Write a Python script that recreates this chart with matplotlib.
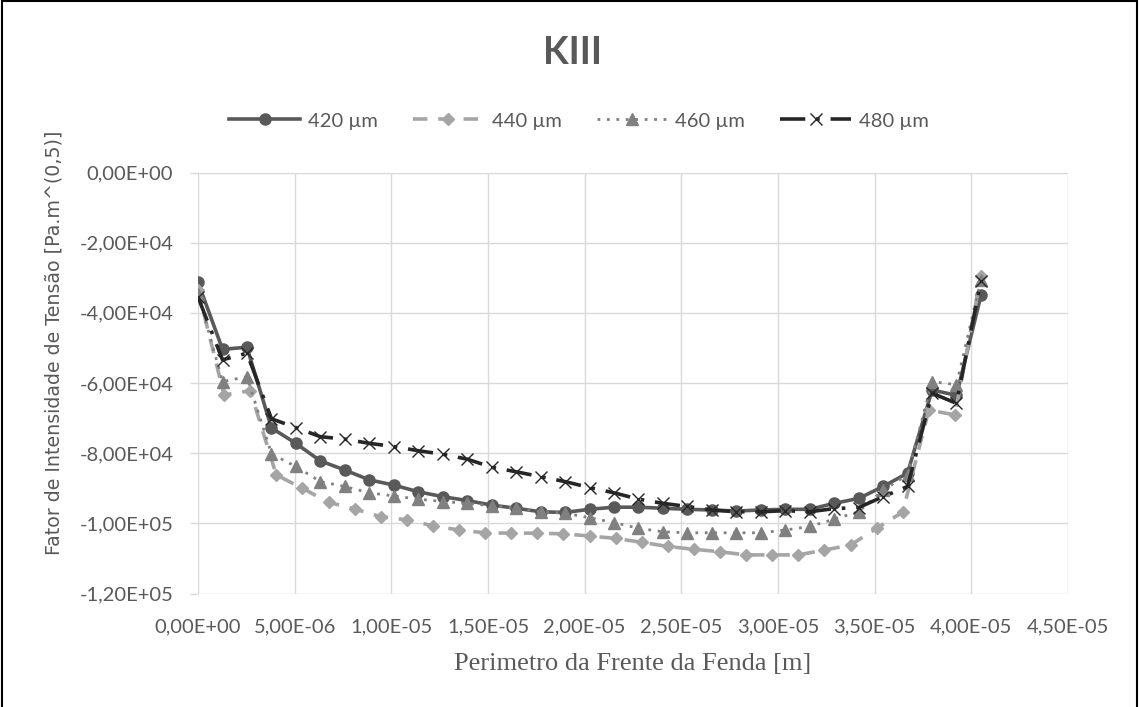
import matplotlib
matplotlib.use("Agg")
import matplotlib.pyplot as plt
from matplotlib.patches import Rectangle
from matplotlib.ticker import FuncFormatter, MultipleLocator

# Crack-front nodes (perimeter position, m)
x_33 = [0.0, 1.27e-6, 2.53e-6, 3.80e-6, 5.06e-6, 6.33e-6, 7.59e-6, 8.86e-6,
        1.013e-5, 1.139e-5, 1.266e-5, 1.392e-5, 1.519e-5, 1.645e-5, 1.772e-5,
        1.898e-5, 2.025e-5, 2.152e-5, 2.278e-5, 2.405e-5, 2.531e-5, 2.658e-5,
        2.784e-5, 2.911e-5, 3.038e-5, 3.164e-5, 3.291e-5, 3.417e-5, 3.544e-5,
        3.670e-5, 3.797e-5, 3.923e-5, 4.050e-5]
x_31 = [0.0, 1.35e-6, 2.70e-6, 4.05e-6, 5.40e-6, 6.75e-6, 8.10e-6, 9.45e-6,
        1.080e-5, 1.215e-5, 1.350e-5, 1.485e-5, 1.620e-5, 1.755e-5, 1.890e-5,
        2.025e-5, 2.160e-5, 2.295e-5, 2.430e-5, 2.565e-5, 2.700e-5, 2.835e-5,
        2.970e-5, 3.105e-5, 3.240e-5, 3.375e-5, 3.510e-5, 3.645e-5, 3.780e-5,
        3.915e-5, 4.050e-5]

# KIII values [Pa.m^0.5]
k_420 = [-3.13e4, -5.04e4, -4.98e4, -7.28e4, -7.72e4, -8.22e4, -8.48e4, -8.76e4,
         -8.91e4, -9.10e4, -9.24e4, -9.35e4, -9.48e4, -9.57e4, -9.67e4, -9.69e4,
         -9.60e4, -9.54e4, -9.54e4, -9.57e4, -9.60e4, -9.62e4, -9.65e4, -9.62e4,
         -9.60e4, -9.60e4, -9.43e4, -9.29e4, -8.95e4, -8.57e4, -6.20e4, -6.35e4,
         -3.50e4]
k_440 = [-3.35e4, -6.34e4, -6.22e4, -8.62e4, -9.00e4, -9.40e4, -9.59e4, -9.81e4,
         -9.90e4, -1.007e5, -1.019e5, -1.027e5, -1.028e5, -1.028e5, -1.030e5,
         -1.036e5, -1.043e5, -1.054e5, -1.066e5, -1.074e5, -1.081e5, -1.090e5,
         -1.090e5, -1.090e5, -1.076e5, -1.062e5, -1.014e5, -9.68e4, -6.77e4,
         -6.91e4, -2.95e4]
k_460 = [-3.45e4, -5.96e4, -5.82e4, -8.02e4, -8.38e4, -8.81e4, -8.95e4, -9.13e4,
         -9.22e4, -9.31e4, -9.38e4, -9.43e4, -9.50e4, -9.57e4, -9.67e4, -9.71e4,
         -9.84e4, -9.98e4, -1.014e5, -1.024e5, -1.027e5, -1.027e5, -1.027e5,
         -1.027e5, -1.019e5, -1.009e5, -9.88e4, -9.67e4, -9.05e4, -8.62e4,
         -5.96e4, -6.05e4, -3.05e4]
k_480 = [-3.55e4, -5.34e4, -5.15e4, -7.02e4, -7.27e4, -7.53e4, -7.60e4, -7.72e4,
         -7.81e4, -7.93e4, -8.03e4, -8.17e4, -8.40e4, -8.53e4, -8.67e4, -8.81e4,
         -8.98e4, -9.13e4, -9.31e4, -9.43e4, -9.52e4, -9.62e4, -9.67e4, -9.67e4,
         -9.64e4, -9.67e4, -9.58e4, -9.55e4, -9.24e4, -8.95e4, -6.29e4, -6.58e4,
         -3.08e4]

labels = ["420 µm", "440 µm", "460 µm", "480 µm"]

TXT = "#595959"
GRID = "#D9D9D9"

W, H, DPI = 1139, 707, 100
fig = plt.figure(figsize=(W / DPI, H / DPI), dpi=DPI)
ax = fig.add_axes([198 / W, 1 - 593.5 / H, (1068 - 198) / W, (593.5 - 172.5) / H])

lw = 2.6
ax.plot(x_33, k_420, color="#595959", lw=lw, ls="-", marker="o", ms=8,
        mfc="#595959", mec="#595959", label=labels[0], zorder=3)
ax.plot(x_31, k_440, color="#A5A5A5", lw=lw, dashes=(4, 3), marker="D", ms=6.5,
        mfc="#A5A5A5", mec="#A5A5A5", label=labels[1], zorder=4)
ax.plot(x_33, k_460, color="#808080", lw=2.0, dashes=(1, 2.4), marker="^", ms=8.5,
        mfc="#808080", mec="#808080", label=labels[2], zorder=5)
ax.plot(x_33, k_480, color="#262626", lw=lw, dashes=(7, 3, 1, 3), marker="x", ms=9,
        mew=1.0, mfc="#262626", mec="#262626", label=labels[3], zorder=6)

ax.set_xlim(0, 4.5e-5)
ax.set_ylim(-1.2e5, 0)
ax.xaxis.set_major_locator(MultipleLocator(5e-6))
ax.yaxis.set_major_locator(MultipleLocator(2e4))

fmt = FuncFormatter(lambda v, p: f"{v:.2E}".replace(".", ",").replace("-0,00E+00", "0,00E+00"))
ax.xaxis.set_major_formatter(fmt)
ax.yaxis.set_major_formatter(fmt)

ax.grid(True, color=GRID, lw=1.0)
ax.set_axisbelow(True)
for s in ax.spines.values():
    s.set_visible(False)

tick_font = "Lato"
ax.tick_params(axis="y", length=5.8, width=1.0, color=GRID, pad=12,
               labelsize=14.5, labelcolor=TXT)
ax.tick_params(axis="x", length=0, pad=18, labelsize=14.5, labelcolor=TXT)
for t in ax.get_xticklabels() + ax.get_yticklabels():
    t.set_fontfamily(tick_font)

fig.text(572 / W, 1 - 53 / H, "KIII", ha="center", va="center", fontsize=27,
         fontweight="bold", color=TXT, family="Lato")

fig.text(633 / W, 1 - 664 / H, "Perimetro da Frente da Fenda [m]", ha="center",
         va="center", fontsize=19, color=TXT, family="Liberation Serif")
fig.text(54 / W, 1 - 343 / H, "Fator de Intensidade de Tensão [Pa.m^(0,5)]",
         ha="center", va="center", rotation=90, fontsize=13.7, color=TXT,
         family="DejaVu Sans")

leg = fig.legend(loc="center", bbox_to_anchor=(579 / W, 1 - 121 / H), ncol=4,
                 frameon=False, numpoints=1, handlelength=3.5, handletextpad=0.4,
                 columnspacing=1.75, prop={"family": "Lato", "size": 14.5})
for t in leg.get_texts():
    t.set_color(TXT)

fig.patches.append(Rectangle((1.5 / W, -0.05), (W - 3.5) / W, 1.05 - 1.5 / H,
                             transform=fig.transFigure, fill=False,
                             edgecolor="black", lw=1.5))

fig.savefig("out.png", dpi=DPI, facecolor="white")
